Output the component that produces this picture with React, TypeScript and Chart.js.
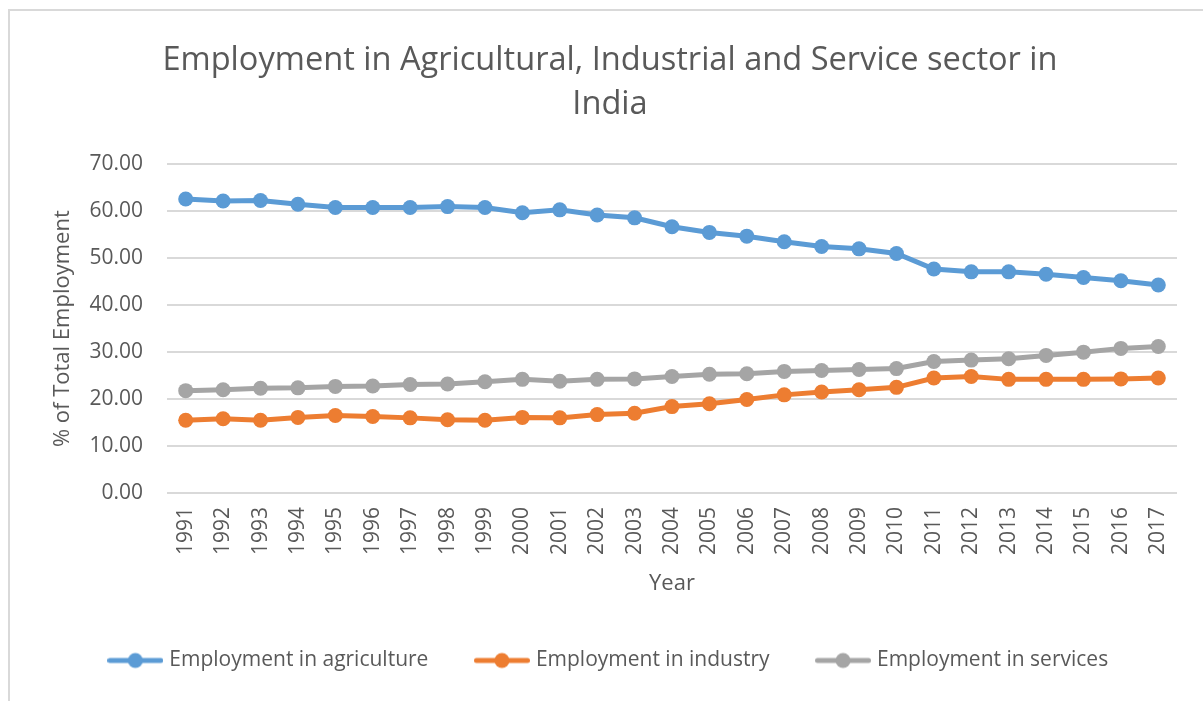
import React, { useEffect, useRef } from "react";
import { Chart, registerables } from "chart.js";

Chart.register(...registerables);

const years = [
  "1991", "1992", "1993", "1994", "1995", "1996", "1997", "1998", "1999", "2000",
  "2001", "2002", "2003", "2004", "2005", "2006", "2007", "2008", "2009", "2010",
  "2011", "2012", "2013", "2014", "2015", "2016", "2017",
];

const agriculture = [
  62.6, 62.2, 62.3, 61.5, 60.8, 60.8, 60.8, 61.0, 60.8, 59.7,
  60.3, 59.2, 58.6, 56.7, 55.5, 54.7, 53.5, 52.5, 52.0, 51.0,
  47.7, 47.1, 47.1, 46.6, 45.9, 45.2, 44.3,
];

const industry = [
  15.5, 15.8, 15.5, 16.1, 16.5, 16.3, 16.0, 15.6, 15.5, 16.1,
  16.0, 16.7, 17.0, 18.4, 19.0, 19.9, 20.9, 21.5, 22.0, 22.5,
  24.5, 24.8, 24.2, 24.2, 24.2, 24.3, 24.5,
];

const services = [
  21.8, 22.0, 22.3, 22.4, 22.7, 22.8, 23.1, 23.2, 23.7, 24.2,
  23.8, 24.2, 24.3, 24.8, 25.3, 25.4, 25.9, 26.1, 26.3, 26.5,
  28.0, 28.3, 28.6, 29.3, 30.0, 30.8, 31.2,
];

const seriesNames = ["Employment in agriculture", "Employment in industry", "Employment in services"];
const seriesValues = [agriculture, industry, services];
const seriesColors = ["#5B9BD5", "#ED7D31", "#A5A5A5"];

const titleLines = ["Employment in Agricultural, Industrial and Service sector in", "India"];
const xTitle = "Year";
const yTitle = "% of Total Employment";
const yMin = 0;
const yMax = 70;
const yStep = 10;

const TEXT = "#595959";
const GRID = "#d9d9d9";
const FONT = "'Open Sans', 'Noto Sans', sans-serif";

function makeMarker(color: string): HTMLCanvasElement {
  const c = document.createElement("canvas");
  c.width = 56;
  c.height = 18;
  const g = c.getContext("2d")!;
  g.strokeStyle = color;
  g.lineWidth = 5;
  g.lineCap = "round";
  g.beginPath();
  g.moveTo(2.5, 9);
  g.lineTo(53.5, 9);
  g.stroke();
  g.fillStyle = color;
  g.beginPath();
  g.arc(28, 9, 7.5, 0, Math.PI * 2);
  g.fill();
  return c;
}

export default function App() {
  const ref = useRef<HTMLCanvasElement>(null);

  useEffect(() => {
    const canvas = ref.current;
    if (!canvas) return;
    const markers = seriesColors.map(makeMarker);

    const frame = {
      id: "frame",
      beforeDraw(chart: any) {
        const ctx = chart.ctx;
        ctx.save();
        ctx.fillStyle = GRID;
        ctx.fillRect(0, 1, chart.width, 2);
        ctx.fillRect(0, 1, 2, chart.height);
        ctx.restore();
      },
    };

    const chart = new Chart(canvas, {
      type: "line",
      data: {
        labels: years,
        datasets: seriesValues.map((vals, i) => ({
          label: seriesNames[i],
          data: vals,
          borderColor: seriesColors[i],
          backgroundColor: seriesColors[i],
          pointBackgroundColor: seriesColors[i],
          pointBorderColor: seriesColors[i],
          pointBorderWidth: 0,
          pointRadius: 7.5,
          borderWidth: 5,
          tension: 0,
          fill: false,
        })),
      },
      options: {
        responsive: false,
        animation: false,
        layout: { padding: { left: 35, right: 26, top: 0, bottom: 20 } },
        plugins: {
          tooltip: { enabled: false },
          title: {
            display: true,
            text: titleLines,
            color: TEXT,
            font: { family: FONT, size: 32.6, weight: "normal", lineHeight: 1.37 },
            padding: { top: 30, bottom: 37 },
          },
          legend: {
            position: "bottom",
            labels: {
              color: TEXT,
              font: { family: FONT, size: 21 },
              usePointStyle: true,
              pointStyleWidth: 47,
              boxHeight: 21,
              padding: 50,
              generateLabels: (ch: any) => {
                const items = Chart.defaults.plugins.legend.labels.generateLabels(ch);
                return items.map((it: any) => ({
                  ...it,
                  pointStyle: markers[it.datasetIndex],
                }));
              },
            },
          },
        },
        scales: {
          x: {
            type: "category",
            offset: true,
            grid: { display: false, drawTicks: false },
            border: { display: false },
            ticks: {
              color: TEXT,
              font: { family: FONT, size: 21 },
              maxRotation: 90,
              minRotation: 90,
              autoSkip: false,
              padding: 14,
            },
            title: {
              display: true,
              text: xTitle,
              color: TEXT,
              font: { family: FONT, size: 22 },
              padding: { top: 0, bottom: 3 },
            },
            afterFit: (scale: any) => {
              scale.height = 107;
            },
          },
          y: {
            min: yMin,
            max: yMax,
            grid: { color: GRID, lineWidth: 2, drawTicks: false },
            border: { display: false },
            ticks: {
              stepSize: yStep,
              color: TEXT,
              font: { family: FONT, size: 21 },
              padding: 24,
              callback: (v: any) => Number(v).toFixed(2),
            },
            title: {
              display: true,
              text: yTitle,
              color: TEXT,
              font: { family: FONT, size: 22 },
              padding: { top: 7, bottom: 0 },
            },
            afterFit: (scale: any) => {
              scale.width = 124;
            },
          },
        },
      },
      plugins: [frame],
    } as any);

    return () => chart.destroy();
  }, []);

  return (
    <div style={{ position: "fixed", left: 8, top: 8, width: 1195, height: 693, overflow: "hidden" }}>
      <canvas ref={ref} width={1195} height={693} style={{ display: "block", width: 1195, height: 693 }} />
    </div>
  );
}
